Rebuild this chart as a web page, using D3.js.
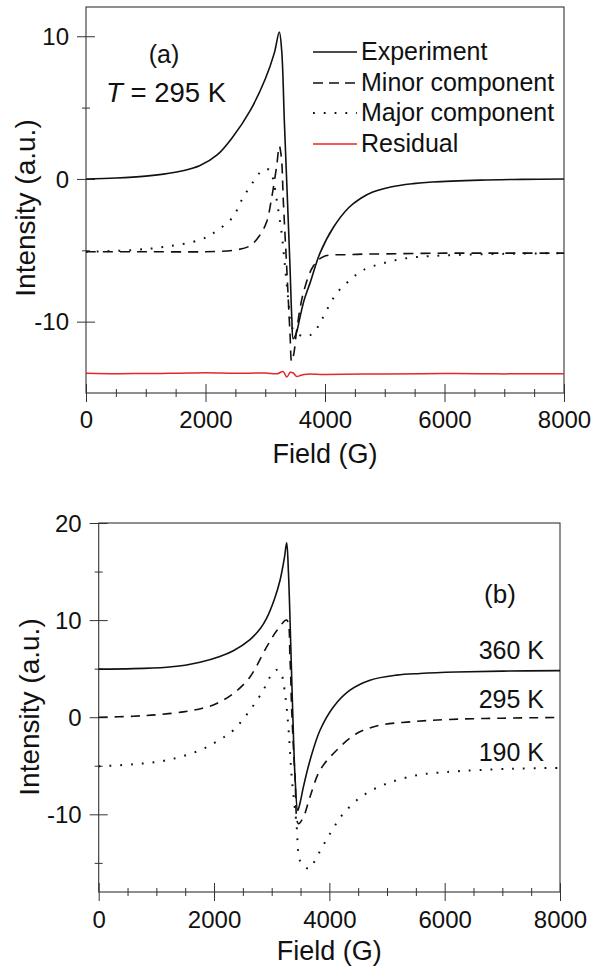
<!DOCTYPE html>
<html>
<head>
<meta charset="utf-8">
<script src="https://cdn.jsdelivr.net/npm/d3@7"></script>
<style>
  html, body { margin: 0; padding: 0; background: #fff; }
  svg { display: block; }
  text { font-family: "Liberation Sans", Arial, sans-serif; fill: #111; }
</style>
</head>
<body>
<svg id="chart" width="602" height="976"></svg>
<script>
// ---------- DATA ----------
// Panel (a): T = 295 K
const aExpField = [0, 500, 1000, 1300, 1600, 1900, 2200, 2450, 2750, 3000, 3150, 3235, 3275, 3320, 3367, 3413, 3445, 3469, 3520, 3582, 3650, 3749, 3916, 4139, 4400, 4600, 4800, 5100, 5475, 5800, 6600, 7300, 8000];
const aExpInt   = [0, 0.07, 0.2, 0.34, 0.56, 0.92, 1.7, 2.9, 4.8, 7.0, 8.8, 10.3, 9.0, 4.0, -1.0, -6.0, -9.8, -11.2, -10.8, -9.67, -8.5, -7.3, -5.2, -3.4, -2.0, -1.35, -0.92, -0.56, -0.33, -0.21, -0.08, -0.03, 0];

const aMinorField = [0, 1000, 2000, 2465, 2740, 2900, 3024, 3100, 3191, 3235, 3270, 3302, 3358, 3414, 3442, 3480, 3526, 3637, 3805, 3972, 4418, 5000, 6000, 7000, 8000];
const aMinorInt   = [-5.1, -5.1, -5.1, -5.0, -4.7, -4.0, -3.0, -1.5, 0.9, 2.3, 1.5, -1.5, -6.1, -10.8, -12.8, -12.2, -10.6, -8.0, -6.1, -5.45, -5.3, -5.25, -5.2, -5.2, -5.2];

const aMajorField = [0, 791, 1349, 1908, 2131, 2466, 2577, 2689, 2800, 2912, 3000, 3080, 3135, 3191, 3274, 3330, 3386, 3442, 3526, 3665, 3805, 3916, 4028, 4196, 4418, 4641, 4976, 5367, 5702, 6037, 7000, 8000];
const aMajorInt   = [-5.1, -4.98, -4.74, -4.27, -3.8, -2.64, -1.7, -0.89, -0.19, 0.45, 0.7, 0.6, -0.07, -1.47, -3.8, -6.1, -8.5, -10.35, -10.8, -11.05, -10.8, -10.1, -9.2, -8.0, -7.08, -6.38, -5.9, -5.55, -5.42, -5.35, -5.25, -5.2];

const aResField = [0, 500, 1000, 1500, 2000, 2500, 3000, 3200, 3300, 3360, 3420, 3470, 3530, 3600, 3700, 4000, 5000, 6000, 7000, 8000];
const aResInt   = [-13.62, -13.65, -13.63, -13.62, -13.58, -13.62, -13.6, -13.65, -13.5, -13.88, -13.55, -13.6, -13.85, -13.75, -13.68, -13.7, -13.66, -13.64, -13.66, -13.65];

// Panel (b): temperature series
const b360Field = [0, 600, 1179, 1500, 1757, 2100, 2335, 2624, 2800, 2913, 3050, 3145, 3220, 3260, 3290, 3330, 3364, 3405, 3452, 3500, 3549, 3665, 3838, 4070, 4358, 4705, 5168, 5573, 6200, 7000, 8000];
const b360Int   = [4.95, 5.0, 5.15, 5.35, 5.65, 6.25, 6.85, 8.0, 9.1, 10.2, 12.2, 14.1, 16.4, 17.97, 15.0, 7.6, 0.7, -6.15, -9.6, -8.6, -7.2, -4.43, -1.34, 1.06, 2.78, 3.81, 4.33, 4.5, 4.65, 4.75, 4.8];

const b295Field = [0, 600, 1000, 1468, 1800, 2046, 2335, 2624, 2913, 3100, 3260, 3318, 3347, 3405, 3462, 3549, 3665, 3838, 4127, 4474, 4879, 5400, 6036, 7000, 8000];
const b295Int   = [0, 0.1, 0.25, 0.55, 0.92, 1.41, 2.44, 4.15, 7.25, 9.0, 10.0, 5.9, 0.72, -6.15, -10.96, -10.3, -8.2, -5.46, -3.4, -1.68, -0.82, -0.48, -0.24, -0.1, -0.03];

const b190Field = [0, 600, 1179, 1757, 2104, 2335, 2624, 2855, 2972, 3100, 3170, 3231, 3289, 3347, 3434, 3470, 3520, 3653, 3780, 4011, 4242, 4589, 4995, 5515, 6036, 7191, 8000];
const b190Int   = [-5.05, -4.85, -4.43, -3.4, -2.3, -1.34, 0.72, 2.78, 4.15, 4.9, 4.4, 2.44, -1.0, -6.15, -11.3, -14.3, -15.1, -15.6, -14.4, -12.0, -9.93, -8.04, -6.84, -5.98, -5.64, -5.3, -5.22];

// Axis ticks
const xMajor = [0, 2000, 4000, 6000, 8000];
const xMinor = [500, 1000, 1500, 2500, 3000, 3500, 4500, 5000, 5500, 6500, 7000, 7500];
const aYMajor = [-10, 0, 10];
const aYMinor = [-5, 5];
const bYMajor = [-10, 0, 10, 20];
const bYMinor = [-15, -5, 5, 15];

const legendLabels = ["Experiment", "Minor component", "Major component", "Residual"];
const bLabels = ["360 K", "295 K", "190 K"];

// ---------- DRAWING ----------
const svg = d3.select("#chart");
const AX = "#333";
const FONT = "Liberation Sans, Arial, sans-serif";
const fmt = d => String(d);   // plain hyphen minus, as in the original

function zip(f, v) { return f.map((d, i) => [d, v[i]]); }

function makePanel(o) {
  const x = d3.scaleLinear().domain([0, 8000]).range([o.left, o.right]);
  const y = d3.scaleLinear().domain(o.yDomain).range([o.bottom, o.top]);
  const g = svg.append("g");

  g.append("rect")
    .attr("x", o.left).attr("y", o.top)
    .attr("width", o.right - o.left).attr("height", o.bottom - o.top)
    .attr("fill", "none").attr("stroke", AX).attr("stroke-width", 1.1);

  const gxm = g.append("g").attr("transform", `translate(0,${o.bottom})`)
    .call(d3.axisBottom(x).tickValues(xMinor).tickSize(4).tickFormat(""));
  gxm.select(".domain").remove();
  gxm.selectAll("line").attr("y1", -4).attr("y2", 4).attr("stroke", AX);

  const gx = g.append("g").attr("transform", `translate(0,${o.bottom})`)
    .call(d3.axisBottom(x).tickValues(xMajor).tickSize(9).tickFormat(fmt));
  gx.select(".domain").remove();
  gx.selectAll("line").attr("y1", -9).attr("y2", 9).attr("stroke", AX);
  gx.selectAll("text").attr("y", o.xLabelDy).attr("dy", null)
    .style("font-size", "24px").style("font-family", FONT).attr("fill", "#111");

  const gym = g.append("g").attr("transform", `translate(${o.left},0)`)
    .call(d3.axisLeft(y).tickValues(o.yMinor).tickSize(4).tickFormat(""));
  gym.select(".domain").remove();
  gym.selectAll("line").attr("x1", -4).attr("x2", 4).attr("stroke", AX);

  const gy = g.append("g").attr("transform", `translate(${o.left},0)`)
    .call(d3.axisLeft(y).tickValues(o.yMajor).tickSize(9).tickFormat(fmt));
  gy.select(".domain").remove();
  gy.selectAll("line").attr("x1", -9).attr("x2", 9).attr("stroke", AX);
  gy.selectAll("text").attr("x", -17).attr("dy", "0.34em")
    .style("font-size", "24px").style("font-family", FONT).attr("fill", "#111");

  g.append("text")
    .attr("x", (o.left + o.right) / 2).attr("y", o.xTitleY)
    .attr("text-anchor", "middle").style("font-size", "27px")
    .text("Field (G)");
  g.append("text")
    .attr("transform", `translate(${o.yTitleX},${o.yTitleCY}) rotate(-90)`)
    .attr("text-anchor", "middle").style("font-size", "28px")
    .text("Intensity (a.u.)");

  const line = d3.line().x(d => x(d[0])).y(d => y(d[1])).curve(d3.curveCatmullRom.alpha(0.5));
  const plot = g.append("g");
  return { x, y, g, plot, line };
}

// Panel (a)
const pa = makePanel({
  left: 86, right: 564, top: 7, bottom: 393, yDomain: [-15, 12.05],
  yMajor: aYMajor, yMinor: aYMinor, xLabelDy: 35, xTitleY: 463,
  yTitleX: 35, yTitleCY: 208
});
pa.plot.append("path").attr("d", pa.line(zip(aResField, aResInt)))
  .attr("fill", "none").attr("stroke", "#e8262a").attr("stroke-width", 1.5);
pa.plot.append("path").attr("d", pa.line(zip(aMajorField, aMajorInt)))
  .attr("fill", "none").attr("stroke", "#111").attr("stroke-width", 2)
  .attr("stroke-dasharray", "1.8,9");
pa.plot.append("path").attr("d", pa.line(zip(aMinorField, aMinorInt)))
  .attr("fill", "none").attr("stroke", "#111").attr("stroke-width", 1.6)
  .attr("stroke-dasharray", "10,7");
pa.plot.append("path").attr("d", pa.line(zip(aExpField, aExpInt)))
  .attr("fill", "none").attr("stroke", "#111").attr("stroke-width", 1.6);

const legStyles = [
  { stroke: "#111", dash: null, w: 1.6 },
  { stroke: "#111", dash: "10,6", w: 1.6 },
  { stroke: "#111", dash: "1.8,9", w: 2 },
  { stroke: "#e8262a", dash: null, w: 1.5 }
];
const legY = [60, 91, 121, 152];
legendLabels.forEach((lab, i) => {
  const s = legStyles[i];
  pa.g.append("line").attr("x1", 313).attr("x2", 357)
    .attr("y1", legY[i] - 8).attr("y2", legY[i] - 8)
    .attr("stroke", s.stroke).attr("stroke-width", s.w)
    .attr("stroke-dasharray", s.dash);
  pa.g.append("text").attr("x", 361).attr("y", legY[i])
    .style("font-size", "25px").text(lab);
});
pa.g.append("text").attr("x", 164).attr("y", 63).attr("text-anchor", "middle")
  .style("font-size", "25px").text("(a)");
const tt = pa.g.append("text").attr("x", 106).attr("y", 102).style("font-size", "27.5px");
tt.append("tspan").style("font-style", "italic").text("T");
tt.append("tspan").text(" = 295 K");

// Panel (b)
const pb = makePanel({
  left: 98.7, right: 560, top: 523, bottom: 892, yDomain: [-18, 20],
  yMajor: bYMajor, yMinor: bYMinor, xLabelDy: 36, xTitleY: 960,
  yTitleX: 39, yTitleCY: 707
});
pb.plot.append("path").attr("d", pb.line(zip(b190Field, b190Int)))
  .attr("fill", "none").attr("stroke", "#111").attr("stroke-width", 2)
  .attr("stroke-dasharray", "1.8,9");
pb.plot.append("path").attr("d", pb.line(zip(b295Field, b295Int)))
  .attr("fill", "none").attr("stroke", "#111").attr("stroke-width", 1.6)
  .attr("stroke-dasharray", "9,7");
pb.plot.append("path").attr("d", pb.line(zip(b360Field, b360Int)))
  .attr("fill", "none").attr("stroke", "#111").attr("stroke-width", 1.6);

pb.g.append("text").attr("x", 500).attr("y", 603).attr("text-anchor", "middle")
  .style("font-size", "26px").text("(b)");
const bLabY = [659, 708, 761];
bLabels.forEach((lab, i) => {
  pb.g.append("text").attr("x", 544).attr("y", bLabY[i]).attr("text-anchor", "end")
    .style("font-size", "25px").text(lab);
});
</script>
</body>
</html>
